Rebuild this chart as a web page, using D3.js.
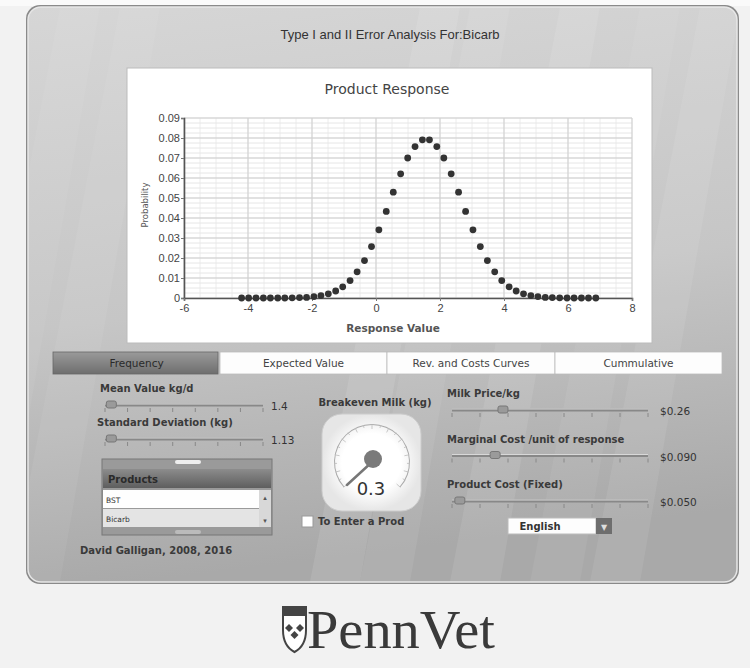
<!DOCTYPE html>
<html><head><meta charset="utf-8">
<script src="https://cdn.jsdelivr.net/npm/d3@7"></script>
<style>
html,body{margin:0;padding:0;background:#f2f2f2;}
svg{display:block;font-family:"DejaVu Sans",sans-serif;}
</style></head>
<body><svg id="c" width="750" height="668"></svg>
<script>
// ---- data ----
const xValues = [-4.20,-3.98,-3.75,-3.52,-3.30,-3.07,-2.85,-2.62,-2.39,-2.17,-1.94,-1.72,-1.49,-1.26,-1.04,-0.81,-0.59,-0.36,-0.14,0.09,0.32,0.54,0.77,0.99,1.22,1.45,
                 1.67,1.90,2.12,2.35,2.58,2.80,3.03,3.26,3.48,3.71,3.93,4.16,4.38,4.61,4.84,5.06,5.29,5.51,5.74,5.97,6.19,6.42,6.64,6.87];
const probValues = [0,0,0,0,0,0,0,0.0001,0.0002,0.0003,0.0007,0.0012,0.0021,0.0035,0.0056,0.0087,0.0131,0.0187,0.0257,0.0341,0.0433,0.0529,0.0621,0.0700,0.0757,0.0791,
                    0.0791,0.0757,0.0700,0.0621,0.0529,0.0433,0.0341,0.0257,0.0187,0.0131,0.0087,0.0056,0.0035,0.0021,0.0012,0.0007,0.0003,0.0002,0.0001,0,0,0,0,0];
const xTicks = [-6,-4,-2,0,2,4,6,8];
const yTicks = [0,0.01,0.02,0.03,0.04,0.05,0.06,0.07,0.08,0.09];
const tabLabels = ["Frequency","Expected Value","Rev. and Costs Curves","Cummulative"];
const leftSliders = [{label:"Mean Value kg/d", value:"1.4"},{label:"Standard Deviation (kg)", value:"1.13"}];
const rightSliders = [{label:"Milk Price/kg", value:"$0.26"},{label:"Marginal Cost /unit of response", value:"$0.090"},{label:"Product Cost (Fixed)", value:"$0.050"}];
const rightKnobs = [0.26, 0.22, 0.04];
const products = ["BST","Bicarb"];
const gaugeValue = 0.3;

const svg = d3.select("#c");
const defs = svg.append("defs");

// background
svg.append("rect").attr("width",750).attr("height",668).attr("fill","#f2f2f2");
svg.append("rect").attr("width",750).attr("height",6).attr("fill","#fafafa");

// panel gradient
const pg = defs.append("linearGradient").attr("id","pg").attr("x1",0).attr("y1",0).attr("x2",0.15).attr("y2",1);
pg.append("stop").attr("offset","0%").attr("stop-color","#d6d6d6");
pg.append("stop").attr("offset","55%").attr("stop-color","#c6c6c6");
pg.append("stop").attr("offset","100%").attr("stop-color","#a9a9a9");
const clip = defs.append("clipPath").attr("id","pclip");
clip.append("rect").attr("x",28).attr("y",7).attr("width",709).attr("height",575).attr("rx",13);

svg.append("rect").attr("x",26).attr("y",5).attr("width",713).attr("height",579).attr("rx",14)
  .attr("fill","#8a8a8a");
svg.append("rect").attr("x",28).attr("y",7).attr("width",709).attr("height",575).attr("rx",13)
  .attr("fill","url(#pg)").attr("stroke","#e6e6e6").attr("stroke-width",1.5);
// streaks
const streaks = svg.append("g").attr("clip-path","url(#pclip)");
[[420,0.10],[470,0.07],[560,0.09],[640,0.06],[700,0.08],[120,0.06],[60,0.05]].forEach(([x,o])=>{
  streaks.append("path").attr("d",`M${x},7 L${x+40},7 L${x-60},582 L${x-110},582 Z`).attr("fill","#fff").attr("opacity",o);
});

// title
svg.append("text").attr("x",390).attr("y",39).attr("text-anchor","middle")
  .attr("font-size",13).attr("fill","#333").attr("font-family","Liberation Sans, sans-serif")
  .text("Type I and II Error Analysis For:Bicarb");

// chart box
svg.append("rect").attr("x",127).attr("y",68).attr("width",525).attr("height",275).attr("fill","#fff").attr("stroke","#bbb");
svg.append("text").attr("x",387).attr("y",94).attr("text-anchor","middle").attr("font-size",14).attr("fill","#444").text("Product Response");

const x = d3.scaleLinear().domain([-6,8]).range([184,632]);
const y = d3.scaleLinear().domain([0,0.09]).range([298,118]);

const grid = svg.append("g");
// minor grid
d3.range(-6,8.01,0.5).forEach(v=>{ grid.append("line").attr("x1",x(v)).attr("x2",x(v)).attr("y1",y(0.09)).attr("y2",y(0)).attr("stroke","#ececec"); });
d3.range(0,0.0901,0.0025).forEach(v=>{ grid.append("line").attr("y1",y(v)).attr("y2",y(v)).attr("x1",x(-6)).attr("x2",x(8)).attr("stroke","#e6e6e6"); });
xTicks.forEach(v=>{ grid.append("line").attr("x1",x(v)).attr("x2",x(v)).attr("y1",y(0.09)).attr("y2",y(0)).attr("stroke","#cfcfcf"); });
yTicks.forEach(v=>{ grid.append("line").attr("y1",y(v)).attr("y2",y(v)).attr("x1",x(-6)).attr("x2",x(8)).attr("stroke","#cfcfcf"); });

const yAxis = svg.append("g").attr("transform",`translate(${x(-6)},0)`)
  .call(d3.axisLeft(y).tickValues(yTicks).tickSize(3).tickFormat(d=>d===0?"0":d3.format(".2f")(d)));
const xAxis = svg.append("g").attr("transform",`translate(0,${y(0)})`)
  .call(d3.axisBottom(x).tickValues(xTicks).tickSize(3).tickPadding(3).tickFormat(d=>String(d)));
[yAxis,xAxis].forEach(a=>{
  a.selectAll("path").attr("stroke","#555").attr("stroke-width",1.6);
  a.selectAll("line").attr("stroke","#777");
  a.selectAll("text").attr("fill","#444").attr("font-size",11);
});
yAxis.selectAll("text").attr("dx",2);

svg.append("text").attr("transform","translate(148,205) rotate(-90)").attr("text-anchor","middle")
  .attr("font-size",8.5).attr("fill","#555").text("Probability");
svg.append("text").attr("x",393).attr("y",332).attr("text-anchor","middle").attr("font-size",10.5)
  .attr("font-weight","bold").attr("fill","#555").text("Response Value");

svg.append("g").selectAll("circle").data(xValues).join("circle")
  .attr("cx",(d)=>x(d)).attr("cy",(d,i)=>y(probValues[i])).attr("r",3.4).attr("fill","#333");

// tabs
const tg = defs.append("linearGradient").attr("id","tg").attr("x1",0).attr("y1",0).attr("x2",0).attr("y2",1);
tg.append("stop").attr("offset","0%").attr("stop-color","#9a9a9a");
tg.append("stop").attr("offset","100%").attr("stop-color","#6e6e6e");
const tabX = [53,220,387,555,722];
tabLabels.forEach((t,i)=>{
  svg.append("rect").attr("x",tabX[i]).attr("y",352).attr("width",tabX[i+1]-tabX[i]-(i===0?2:0)).attr("height",22)
    .attr("fill",i===0?"url(#tg)":"#fdfdfd").attr("stroke",i===0?"#666":"#bbb").attr("stroke-width",0.8);
  svg.append("text").attr("x",(tabX[i]+tabX[i+1])/2).attr("y",367).attr("text-anchor","middle")
    .attr("font-size",10.5).attr("fill",i===0?"#2a2a2a":"#444").text(t);
});

function slider(x0,x1,yT,knob){
  const g = svg.append("g");
  g.append("line").attr("x1",x0).attr("x2",x1).attr("y1",yT).attr("y2",yT).attr("stroke","#888").attr("stroke-width",3);
  g.append("line").attr("x1",x0).attr("x2",x1).attr("y1",yT-1).attr("y2",yT-1).attr("stroke","#d8d8d8").attr("stroke-width",1);
  d3.range(0,8).forEach(i=>{ const xx = x0+ (x1-x0)*i/7;
    g.append("line").attr("x1",xx).attr("x2",xx).attr("y1",yT+3).attr("y2",yT+7).attr("stroke","#888"); });
  g.append("rect").attr("x",x0+(x1-x0)*knob-5).attr("y",yT-4).attr("width",10).attr("height",7).attr("rx",2)
    .attr("fill","#9a9a9a").attr("stroke","#777");
}
leftSliders.forEach((s,i)=>{
  const yy = 392 + i*34;
  svg.append("text").attr("x",i===0?100:97).attr("y",yy).attr("font-size",10).attr("font-weight","bold").attr("fill","#3a3a3a").text(s.label);
  slider(105,263,yy+13,0.04);
  svg.append("text").attr("x",271).attr("y",yy+18).attr("font-size",10.5).attr("fill","#333").text(s.value);
});

// products list
svg.append("rect").attr("x",102).attr("y",459).attr("width",170).attr("height",76).attr("fill","#9a9a9a").attr("stroke","#777");
svg.append("rect").attr("x",175).attr("y",460).attr("width",26).attr("height",4).attr("rx",2).attr("fill","#eee");
const hg = defs.append("linearGradient").attr("id","hg").attr("x1",0).attr("y1",0).attr("x2",0).attr("y2",1);
hg.append("stop").attr("offset","0%").attr("stop-color","#8c8c8c");
hg.append("stop").attr("offset","100%").attr("stop-color","#5e5e5e");
svg.append("rect").attr("x",103).attr("y",469).attr("width",168).attr("height",19).attr("fill","url(#hg)");
svg.append("text").attr("x",108).attr("y",483).attr("font-size",10).attr("font-weight","bold").attr("fill","#2a2a2a").text("Products");
products.forEach((p,i)=>{
  const yy = 490 + i*19;
  svg.append("rect").attr("x",103).attr("y",yy).attr("width",168).attr("height",18).attr("fill",i===0?"#fefefe":"#e4e4e4");
  svg.append("text").attr("x",106).attr("y",yy+13).attr("font-size",7.5).attr("fill","#333").text(p);
});
svg.append("rect").attr("x",259).attr("y",490).attr("width",12).attr("height",37).attr("fill","#d8d8d8");
svg.append("text").attr("x",265).attr("y",500).attr("text-anchor","middle").attr("font-size",7).attr("fill","#555").text("▴");
svg.append("text").attr("x",265).attr("y",523).attr("text-anchor","middle").attr("font-size",7).attr("fill","#555").text("▾");
svg.append("rect").attr("x",175).attr("y",530).attr("width",26).attr("height",4).attr("rx",2).attr("fill","#bbb");
svg.append("text").attr("x",80).attr("y",554).attr("font-size",10).attr("font-weight","bold").attr("fill","#3a3a3a").text("David Galligan, 2008, 2016");

// gauge
svg.append("text").attr("x",375).attr("y",406).attr("text-anchor","middle").attr("font-size",10).attr("font-weight","bold").attr("fill","#3a3a3a").text("Breakeven Milk (kg)");
const gg = defs.append("radialGradient").attr("id","gg");
gg.append("stop").attr("offset","60%").attr("stop-color","#ffffff");
gg.append("stop").attr("offset","100%").attr("stop-color","#e6e6e6");
svg.append("rect").attr("x",322).attr("y",414).attr("width",99).attr("height",97).attr("rx",20).attr("fill","url(#gg)").attr("stroke","#ccc");
const gcx = 372, gcy = 462, gr = 38;
const arc = d3.arc().innerRadius(gr-1).outerRadius(gr).startAngle(-2.3).endAngle(2.3);
svg.append("path").attr("transform",`translate(${gcx},${gcy})`).attr("d",arc()).attr("fill","#aaa");
const gScale = d3.scaleLinear().domain([0,10]).range([-2.3,2.3]);
d3.range(0,10.01,0.5).forEach(v=>{
  const a = gScale(v), r1 = gr-(v%1===0?5:3);
  svg.append("line").attr("x1",gcx+Math.sin(a)*r1).attr("y1",gcy-Math.cos(a)*r1)
    .attr("x2",gcx+Math.sin(a)*gr).attr("y2",gcy-Math.cos(a)*gr).attr("stroke","#bbb").attr("stroke-width",0.8);
});
const na = gScale(gaugeValue)-0.15;
svg.append("line").attr("x1",gcx).attr("y1",gcy).attr("x2",gcx+Math.sin(na)*34).attr("y2",gcy-Math.cos(na)*34)
  .attr("stroke","#777").attr("stroke-width",2.5).attr("stroke-linecap","round");
svg.append("circle").attr("cx",gcx+1).attr("cy",gcy-3).attr("r",9).attr("fill","#7a7a7a");
svg.append("text").attr("x",371).attr("y",495).attr("text-anchor","middle").attr("font-size",18).attr("fill","#333").text(String(gaugeValue));
svg.append("rect").attr("x",302).attr("y",516).attr("width",11).attr("height",11).attr("fill","#fff").attr("stroke","#999");
svg.append("text").attr("x",318).attr("y",525).attr("font-size",10).attr("font-weight","bold").attr("fill","#3a3a3a").text("To Enter a Prod");

// right sliders
rightSliders.forEach((s,i)=>{
  const yy = 397 + i*45.5;
  svg.append("text").attr("x",447).attr("y",yy).attr("font-size",10).attr("font-weight","bold").attr("fill","#3a3a3a").text(s.label);
  slider(452,648,yy+13,rightKnobs[i]);
  svg.append("text").attr("x",660).attr("y",yy+18).attr("font-size",10.5).attr("fill","#333").text(s.value);
});
svg.append("rect").attr("x",508).attr("y",518).attr("width",88).attr("height",16).attr("fill","#fdfdfd").attr("stroke","#bbb");
svg.append("text").attr("x",540).attr("y",530).attr("text-anchor","middle").attr("font-size",10).attr("font-weight","bold").attr("fill","#333").text("English");
svg.append("rect").attr("x",596).attr("y",518).attr("width",16).attr("height",16).attr("fill","#6e6e6e");
svg.append("text").attr("x",604).attr("y",530).attr("text-anchor","middle").attr("font-size",8).attr("fill","#ddd").text("▼");

// PennVet logo
const logo = svg.append("g");
logo.append("path").attr("d","M283,607 L306,607 L306,630 Q306,646 294.5,652 Q283,646 283,630 Z").attr("fill","#fff").attr("stroke","#444").attr("stroke-width",2);
logo.append("rect").attr("x",284).attr("y",608).attr("width",21).attr("height",8).attr("fill","#444");
[[289,628],[300,628],[294.5,635]].forEach(([cx,cy])=>{
  logo.append("path").attr("d",`M${cx},${cy-4} L${cx+4},${cy} L${cx},${cy+4} L${cx-4},${cy} Z`).attr("fill","#444");
});
logo.append("text").attr("x",307).attr("y",648).attr("font-family","Liberation Serif, serif").attr("font-size",54)
  .attr("fill","#3a3a3a").attr("textLength",188).attr("lengthAdjust","spacingAndGlyphs").text("PennVet");
</script></body></html>
